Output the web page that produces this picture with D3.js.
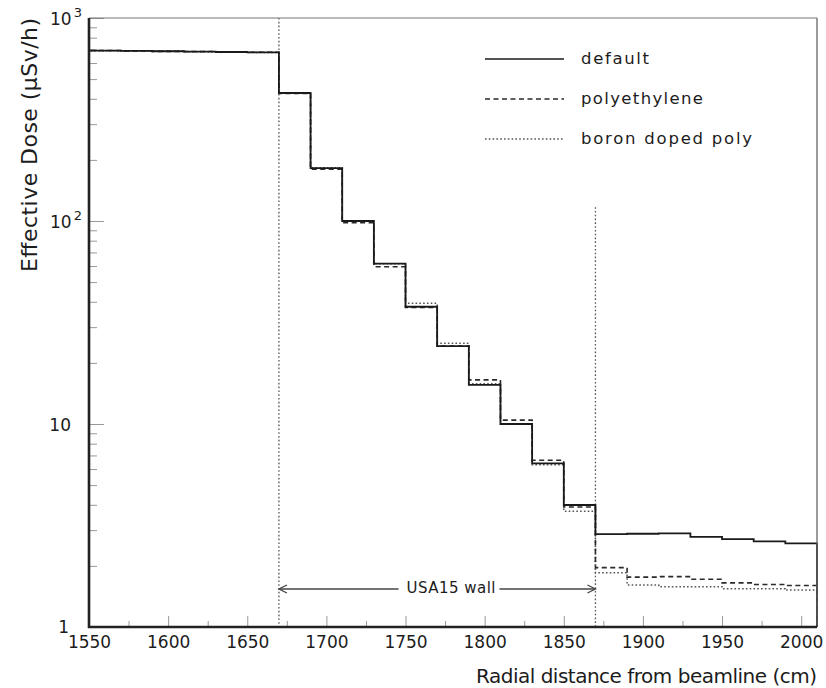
<!DOCTYPE html>
<html><head><meta charset="utf-8">
<script src="https://cdn.jsdelivr.net/npm/d3@7"></script>
<style>
body{margin:0;background:#fff}
svg{display:block}
text{font-family:"DejaVu Sans",sans-serif;fill:#1c1c1c}
</style>
</head><body><svg id="c" width="826" height="688"></svg>
<script>
// ---------- data ----------
const binEdges = [1550,1570,1590,1610,1630,1650,1670,1690,1710,1730,1750,1770,1790,1810,1830,1850,1870,1890,1910,1930,1950,1970,1990,2010];
const defaultDose = [690,688,686,683,680,677,427,182,100,61.6,37.8,24.2,15.6,10.0,6.4,3.99,2.87,2.88,2.89,2.78,2.71,2.64,2.58];
const polyDose    = [692,689,685,684,679,678,425,180,98,59.5,37.5,24.2,16.5,10.45,6.63,3.9,1.96,1.76,1.77,1.72,1.65,1.62,1.60];
const boronDose   = [689,688,687,682,681,676,428,183,100,61.5,39.3,25.0,15.8,10.0,6.3,3.72,1.85,1.61,1.58,1.58,1.545,1.545,1.52];
const seriesNames = ["default","polyethylene","boron doped poly"];
const xTickValues = [1550,1600,1650,1700,1750,1800,1850,1900,1950,2000];
const xTickLabels = ["1550","1600","1650","1700","1750","1800","1850","1900","1950","2000"];
const yTickValues = [1,10,100,1000];
const yTickLabels = ["1","10","10^2","10^3"];
const wallX = [1670,1870];
const wallTop = [1000,117];
const wallLabel = "USA15 wall";
const xTitle = "Radial distance from beamline (cm)";
const yTitle = "Effective Dose (\u03bcSv/h)";

// ---------- layout ----------
const L = 89, R = 817, T = 18, B = 627;
const svg = d3.select("#c");
const x = d3.scaleLinear().domain([1550, 2010]).range([L, R]);
const y = d3.scaleLog().domain([1, 1000]).range([B, T]);

// minor ticks x
const xMinor = d3.range(1550, 2010, 25).filter(v => !xTickValues.includes(v));
svg.append("g").attr("transform", `translate(0,${B})`)
  .call(d3.axisBottom(x).tickValues(xMinor).tickSize(-6).tickFormat(""))
  .call(g => g.select(".domain").remove())
  .call(g => g.selectAll("line").attr("stroke", "#999").attr("stroke-width", 1));
// major ticks x
const xa = svg.append("g").attr("transform", `translate(0,${B})`)
  .call(d3.axisBottom(x).tickValues(xTickValues).tickSize(-11).tickPadding(9)
        .tickFormat((d, i) => xTickLabels[i]))
  .call(g => g.select(".domain").remove());
xa.selectAll("line").attr("stroke", "#999").attr("stroke-width", 1);
xa.selectAll("text").attr("font-size", 17).attr("fill", "#1c1c1c")
  .attr("font-family", '"DejaVu Sans",sans-serif').attr("dy", "0.71em");

// y ticks: minor
const yMinor = [];
[1, 10, 100].forEach(dec => { for (let k = 2; k <= 9; k++) yMinor.push(dec * k); });
svg.append("g").attr("transform", `translate(${L},0)`)
  .call(d3.axisLeft(y).tickValues(yMinor).tickSize(-8).tickFormat(""))
  .call(g => g.select(".domain").remove())
  .call(g => g.selectAll("line").attr("stroke", "#999").attr("stroke-width", 1));
svg.append("g").attr("transform", `translate(${L},0)`)
  .call(d3.axisLeft(y).tickValues(yTickValues).tickSize(-15).tickFormat(""))
  .call(g => g.select(".domain").remove())
  .call(g => g.selectAll("line").attr("stroke", "#999").attr("stroke-width", 1));

// y tick labels (with superscripts)
yTickValues.forEach((v, i) => {
  const lab = yTickLabels[i];
  const parts = lab.split("^");
  if (parts.length === 2) {
    const t = svg.append("text").attr("x", 50).attr("y", y(v) + 7)
      .attr("font-size", 17);
    t.append("tspan").text(parts[0]);
    t.append("tspan").attr("dx", 2).attr("dy", -8).attr("font-size", 13).text(parts[1]);
  } else if (v === 1) {
    svg.append("text").attr("x", 69).attr("y", y(v) + 6)
      .attr("text-anchor", "end").attr("font-size", 17).text(lab);
  } else {
    svg.append("text").attr("x", 71).attr("y", y(v) + 7)
      .attr("text-anchor", "end").attr("font-size", 17).text(lab);
  }
});

// wall dotted lines
wallX.forEach((wx, i) => {
  svg.append("line")
    .attr("x1", x(wx)).attr("x2", x(wx))
    .attr("y1", y(wallTop[i])).attr("y2", y(1))
    .attr("stroke", "#555").attr("stroke-width", 1.3)
    .attr("stroke-dasharray", "1.6,2.2");
});

// histograms
function histPoints(vals) {
  const pts = [[binEdges[0], 1]];
  vals.forEach((v, i) => pts.push([binEdges[i], v]));
  pts.push([binEdges[binEdges.length - 1], vals[vals.length - 1]]);
  pts.push([binEdges[binEdges.length - 1], 1]);
  return pts;
}
const line = d3.line().x(d => x(d[0])).y(d => y(d[1])).curve(d3.curveStepAfter);
const styles = [
  {vals: defaultDose, dash: null, w: 1.8, c: "#1a1a1a"},
  {vals: polyDose, dash: "5,3.5", w: 1.6, c: "#2a2a2a"},
  {vals: boronDose, dash: "1.6,2.2", w: 1.5, c: "#555"}
];
[2, 1, 0].forEach(i => {
  const s = styles[i];
  svg.append("path").attr("d", line(histPoints(s.vals)))
    .attr("fill", "none").attr("stroke", s.c).attr("stroke-width", s.w)
    .attr("stroke-dasharray", s.dash);
});

// frame
svg.append("line").attr("x1", L).attr("x2", R).attr("y1", T).attr("y2", T)
  .attr("stroke", "#777").attr("stroke-width", 1.2);
svg.append("line").attr("x1", R).attr("x2", R).attr("y1", T).attr("y2", B)
  .attr("stroke", "#666").attr("stroke-width", 1.3);
svg.append("line").attr("x1", L).attr("x2", L).attr("y1", T).attr("y2", B + 1)
  .attr("stroke", "#222").attr("stroke-width", 2.6);
svg.append("line").attr("x1", L - 1).attr("x2", R).attr("y1", B).attr("y2", B)
  .attr("stroke", "#222").attr("stroke-width", 2.4);

// legend
const legY = [59, 99, 139];
seriesNames.forEach((n, i) => {
  const s = styles[i];
  svg.append("line").attr("x1", 485).attr("x2", 564).attr("y1", legY[i]).attr("y2", legY[i])
    .attr("stroke", s.c).attr("stroke-width", i === 0 ? 1.4 : 1.3)
    .attr("stroke-dasharray", s.dash);
});
const legLen = [68, 122, 171];
seriesNames.forEach((n, i) => {
  svg.append("text").attr("x", 581).attr("y", legY[i] + 5).attr("font-size", 16.5)
    .attr("textLength", legLen[i]).attr("lengthAdjust", "spacing").text(n);
});

// wall annotation
const ay = 589;
const tx = 451;
const wt = svg.append("text").attr("x", tx).attr("y", ay + 4).attr("text-anchor", "middle")
  .attr("font-size", 15).attr("textLength", 89).attr("lengthAdjust", "spacing").text(wallLabel);
const tl = tx - 44.5 - 8, tr = tx + 44.5 + 4;
const ax1 = x(wallX[0]), ax2 = x(wallX[1]);
svg.append("line").attr("x1", ax1).attr("x2", tl).attr("y1", ay).attr("y2", ay)
  .attr("stroke", "#444").attr("stroke-width", 1.3);
svg.append("line").attr("x1", tr).attr("x2", ax2).attr("y1", ay).attr("y2", ay)
  .attr("stroke", "#444").attr("stroke-width", 1.3);
svg.append("path").attr("d", `M${ax1 + 8},${ay - 4}L${ax1},${ay}L${ax1 + 8},${ay + 4}`)
  .attr("fill", "none").attr("stroke", "#444").attr("stroke-width", 1.3);
svg.append("path").attr("d", `M${ax2 - 8},${ay - 4}L${ax2},${ay}L${ax2 - 8},${ay + 4}`)
  .attr("fill", "none").attr("stroke", "#444").attr("stroke-width", 1.3);

// axis titles
svg.append("text").attr("x", R).attr("y", 683).attr("text-anchor", "end")
  .attr("font-size", 20).attr("textLength", 341).attr("lengthAdjust", "spacing").text(xTitle);
svg.append("text").attr("transform", `translate(37,${T}) rotate(-90)`)
  .attr("text-anchor", "end").attr("font-size", 22)
  .attr("textLength", 254).attr("lengthAdjust", "spacing").text(yTitle);
</script>
</body></html>
